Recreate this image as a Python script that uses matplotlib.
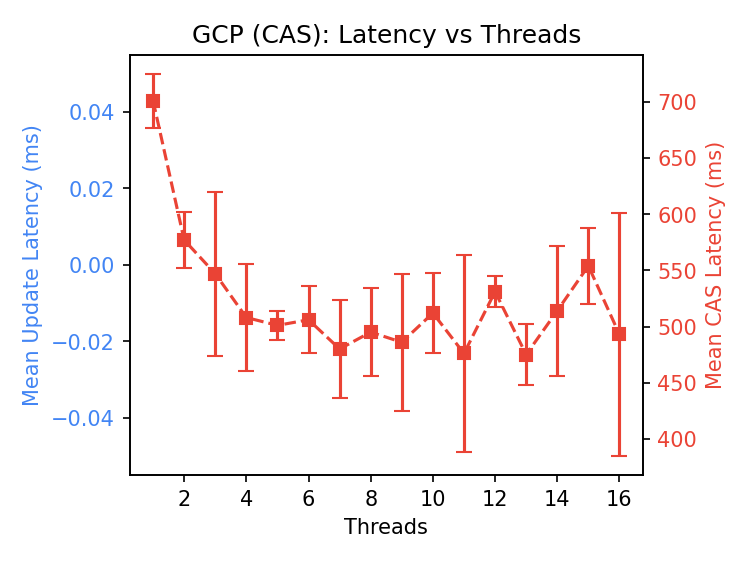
import matplotlib
matplotlib.use('Agg')
import matplotlib.pyplot as plt
from matplotlib.ticker import MaxNLocator

threads = [1, 2, 3, 4, 5, 6, 7, 8, 9, 10, 11, 12, 13, 14, 15, 16]
cas_mean = [701, 577, 547, 508, 501, 506, 480, 495, 486, 512, 476, 531, 475, 514, 554, 493]
cas_err = [24, 25, 73, 48, 13, 30, 44, 39, 61, 36, 88, 14, 27, 58, 34, 108]

blue = '#4285F4'
red = '#EA4335'

fig, ax1 = plt.subplots(figsize=(5, 3.75), dpi=150)
fig.subplots_adjust(left=0.173, right=0.857, bottom=0.155, top=0.902)

ax1.set_ylim(-0.055, 0.055)
ax1.set_xlabel('Threads')
ax1.set_ylabel('Mean Update Latency (ms)', color=blue)
ax1.tick_params(axis='y', labelcolor=blue)

ax2 = ax1.twinx()
ax2.errorbar(threads, cas_mean, yerr=cas_err, color=red, marker='s', markersize=6,
             linestyle='--', linewidth=1.5, capsize=4)
ax2.set_ylabel('Mean CAS Latency (ms)', color=red)
ax2.tick_params(axis='y', labelcolor=red)
ax1.xaxis.set_major_locator(MaxNLocator(integer=True))

ax1.set_title('GCP (CAS): Latency vs Threads')
fig.savefig('out.png')
